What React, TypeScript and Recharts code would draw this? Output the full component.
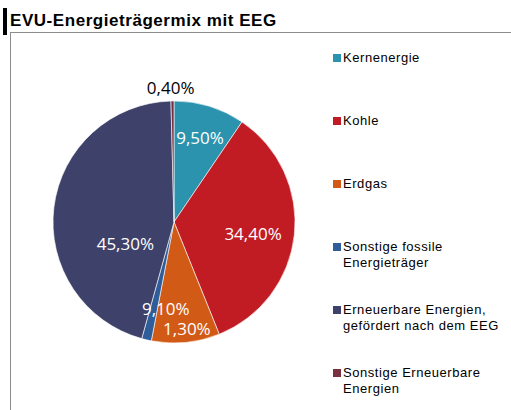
import React from "react";
import { PieChart, Pie, Cell, Legend } from "recharts";

const categories = [
  "Kernenergie",
  "Kohle",
  "Erdgas",
  "Sonstige fossile Energieträger",
  "Erneuerbare Energien, gefördert nach dem EEG",
  "Sonstige Erneuerbare Energien",
];
const shares = [9.5, 34.4, 9.1, 1.3, 45.3, 0.4];

const COLORS = ["#2b93ae", "#c11b24", "#d25a17", "#2e5d9a", "#3e4169", "#7a3040"];

// label placement as in the original (excel "best fit"): clock-angle shift and radius factor
const LABEL_POS = [
  { dAngle: 0, rf: 0.73, color: "#fff" },
  { dAngle: 2, rf: 0.66, color: "#fff" },
  { dAngle: 11, rf: 0.72, color: "#fff" },
  { dAngle: -20, rf: 0.89, color: "#fff" },
  { dAngle: -31, rf: 0.44, color: "#fff" },
  { dAngle: -0.7, rf: 1.11, color: "#000" },
];

const chartData = categories.map((name, i) => ({ name, value: shares[i], fill: COLORS[i] }));

const fmt = (v: number) => `${v.toFixed(2).replace(".", ",")}%`;

function renderLabel(props: any) {
  const { cx, cy, midAngle, outerRadius, index, value } = props;
  const pos = LABEL_POS[index];
  const clock = ((90 - midAngle + pos.dAngle) * Math.PI) / 180;
  const r = outerRadius * pos.rf;
  const x = cx + r * Math.sin(clock);
  const y = cy - r * Math.cos(clock);
  return (
    <text
      x={x}
      y={y}
      fill={pos.color}
      textAnchor="middle"
      dominantBaseline="central"
      fontFamily='"Open Sans", sans-serif'
      fontSize={17}
    >
      {fmt(value)}
    </text>
  );
}

function renderLegend(props: any) {
  // keep the data order (recharts sorts legend items by name)
  const payload = [...(props.payload || [])].sort(
    (a: any, b: any) => categories.indexOf(a.value) - categories.indexOf(b.value)
  );
  return (
    <div
      style={{
        fontFamily: '"Liberation Sans", Arial, sans-serif',
        fontSize: 13,
        letterSpacing: 0.55,
        color: "#000",
      }}
    >
      {payload.map((entry: any, i: number) => (
        <div key={i} style={{ position: "absolute", left: 0, top: i * 63, display: "flex", width: 175 }}>
          <div
            style={{
              width: 8,
              height: 8,
              marginTop: 4,
              marginRight: 2,
              flexShrink: 0,
              background: COLORS[categories.indexOf(entry.value)] || entry.color,
            }}
          />
          <div style={{ lineHeight: "16px", width: 165 }}>{entry.value}</div>
        </div>
      ))}
    </div>
  );
}

export default function App() {
  return (
    <div
      style={{
        position: "absolute",
        left: 0,
        top: 0,
        width: 511,
        height: 410,
        background: "#fff",
        overflow: "hidden",
      }}
    >
      <div style={{ position: "absolute", left: 3, top: 8, width: 4, height: 27, background: "#000" }} />
      <div
        style={{
          position: "absolute",
          left: 10,
          top: 11,
          fontFamily: '"Liberation Sans", Arial, sans-serif',
          fontWeight: 700,
          fontSize: 17,
          letterSpacing: 0.55,
          lineHeight: "20px",
          color: "#000",
          whiteSpace: "nowrap",
        }}
      >
        EVU-Energieträgermix mit EEG
      </div>
      <div style={{ position: "absolute", left: 10, top: 32, width: 501, height: 1, background: "#8c8c8c" }} />
      <div style={{ position: "absolute", left: 10, top: 32, width: 1, height: 378, background: "#8c8c8c" }} />
      <div style={{ position: "absolute", left: 0, top: 0 }}>
        <PieChart width={511} height={410} margin={{ top: 0, right: 0, bottom: 0, left: 0 }}>
          <Pie
            data={chartData}
            dataKey="value"
            nameKey="name"
            cx={174}
            cy={222}
            outerRadius={121}
            startAngle={90}
            endAngle={-270}
            stroke="#ffffff"
            strokeWidth={0.6}
            label={renderLabel}
            labelLine={false}
            isAnimationActive={false}
          >
            {chartData.map((d, i) => (
              <Cell key={i} fill={COLORS[i]} />
            ))}
          </Pie>
          <Legend
            layout="vertical"
            align="right"
            verticalAlign="top"
            content={renderLegend}
            wrapperStyle={{ left: 333, top: 50, width: 175, height: 340 }}
          />
        </PieChart>
      </div>
    </div>
  );
}
